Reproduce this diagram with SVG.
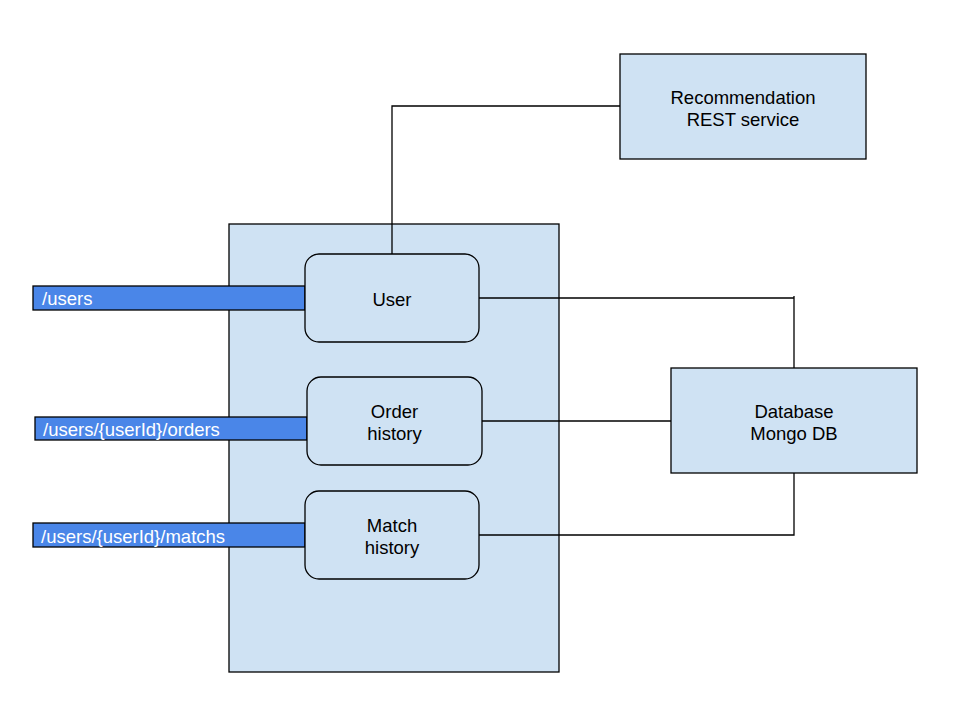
<svg xmlns="http://www.w3.org/2000/svg" width="960" height="720" viewBox="0 0 960 720">
<style>
.box{fill:#cfe2f3;stroke:#000;stroke-width:1.3}
.bar{fill:#4a86e8;stroke:#000;stroke-width:1.3}
.t{font-family:"Liberation Sans",Arial,sans-serif;font-size:18.5px;fill:#000;text-anchor:middle}
.w{font-family:"Liberation Sans",Arial,sans-serif;font-size:18.5px;fill:#fff}
.c{fill:none;stroke:#000;stroke-width:1.3}
</style>
<rect width="960" height="720" fill="#fff"/>
<g id="container"><rect class="box" x="229" y="224" width="330" height="448"/></g>
<g id="api-users"><rect class="bar" x="33" y="286" width="272" height="24"/><text class="w" x="42" y="305">/users</text></g>
<g id="api-orders"><rect class="bar" x="35" y="417" width="272" height="23"/><text class="w" x="43" y="436">/users/{userId}/orders</text></g>
<g id="api-matchs"><rect class="bar" x="33" y="523" width="272" height="24"/><text class="w" x="41" y="543">/users/{userId}/matchs</text></g>
<g id="connectors">
<path class="c" d="M620,106 H392 V254"/>
<path class="c" d="M479,298 H794 V368 M794,296 V298"/>
<path class="c" d="M482,421 H671"/>
<path class="c" d="M479,535 H794 V473"/>
</g>
<g id="recommendation"><rect class="box" x="620" y="54" width="246" height="105"/><text class="t" x="743" y="104">Recommendation</text><text class="t" x="743" y="126">REST service</text></g>
<g id="user"><rect class="box" x="305" y="254" width="174" height="88" rx="14"/><text class="t" x="392" y="306">User</text></g>
<g id="order"><rect class="box" x="307" y="377" width="175" height="88" rx="14"/><text class="t" x="394.5" y="418">Order</text><text class="t" x="394.5" y="440">history</text></g>
<g id="match"><rect class="box" x="305" y="491" width="174" height="88" rx="14"/><text class="t" x="392" y="532">Match</text><text class="t" x="392" y="554">history</text></g>
<g id="database"><rect class="box" x="671" y="368" width="246" height="105"/><text class="t" x="794" y="418">Database</text><text class="t" x="794" y="440">Mongo DB</text></g>
</svg>
